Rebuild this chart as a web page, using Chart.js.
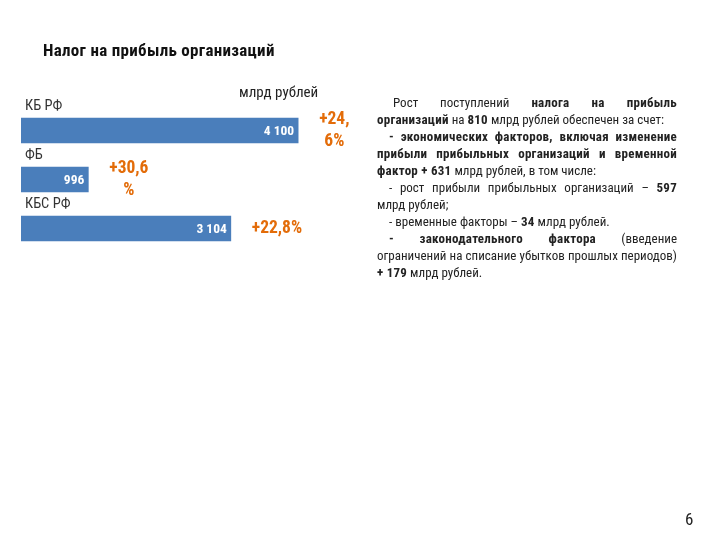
<!DOCTYPE html>
<html>
<head>
<meta charset="utf-8">
<script src="https://cdn.jsdelivr.net/npm/chart.js@4.4.1/dist/chart.umd.min.js"></script>
<style>
  html, body { margin: 0; padding: 0; background: #fff; }
  body { width: 720px; height: 540px; position: relative; overflow: hidden;
         font-family: "Liberation Sans Narrow", "Arial Narrow", "Roboto Condensed", sans-serif; color: #111; }
  #chart { position: absolute; left: 0; top: 0; }
  .title { position: absolute; left: 43px; top: 40px; font-size: 17px; font-weight: bold; letter-spacing: 0.3px; }
  .unit { position: absolute; left: 239px; top: 83px; font-size: 15px; color: #222; }
  .note { position: absolute; left: 377px; top: 94px; width: 300px; font-size: 13px; line-height: 17px; color: #222; }
  .note p { margin: 0; text-align: justify; text-indent: 12px; }
  .note p.first { text-indent: 16px; }
  .note b { letter-spacing: 0.25px; }
  .page { position: absolute; left: 685px; top: 509px; font-size: 17px; color: #222; }
</style>
</head>
<body>
<canvas id="chart" width="720" height="540"></canvas>
<div class="title">Налог на прибыль организаций</div>
<div class="unit">млрд рублей</div>
<div class="note">
  <p class="first">Рост поступлений <b>налога на прибыль организаций</b>&nbsp;на <b>810</b> млрд рублей обеспечен за счет:</p>
  <p><b>- экономических факторов, включая изменение прибыли прибыльных организаций и временной фактор + 631</b> млрд рублей, в том числе:</p>
  <p>- рост прибыли прибыльных организаций – <b>597</b> млрд рублей;</p>
  <p>- временные факторы – <b>34</b> млрд рублей.</p>
  <p><b>- законодательного фактора</b> (введение ограничений на списание убытков прошлых периодов) <b>+ 179</b> млрд рублей.</p>
</div>
<div class="page">6</div>
<script>
// data
const categories = ['КБ РФ', 'ФБ', 'КБС РФ'];
const values = [4100, 996, 3104];
const valueLabels = ['4 100', '996', '3 104'];
const growthLabels = [['+24,', '6%'], ['+30,6', '%'], ['+22,8%']];

const FONT = '"Liberation Sans Narrow", "Arial Narrow", "Roboto Condensed", sans-serif';

// labels above bars, inside bars and growth to the right
const barLabels = {
  id: 'barLabels',
  afterDatasetsDraw(chart) {
    const ctx = chart.ctx;
    const meta = chart.getDatasetMeta(0);
    ctx.save();
    meta.data.forEach((bar, i) => {
      const top = bar.y - bar.height / 2;
      // category name
      ctx.font = '14.5px ' + FONT;
      ctx.fillStyle = '#333';
      ctx.textAlign = 'left';
      ctx.textBaseline = 'middle';
      ctx.fillText(categories[i], 25, top - 12);

      // value inside bar
      ctx.font = 'bold 13.5px ' + FONT;
      ctx.fillStyle = '#fff';
      ctx.textAlign = 'right';
      ctx.fillText(valueLabels[i], bar.x - 4, bar.y + 1);

      // growth
      ctx.font = 'bold 17.5px ' + FONT;
      ctx.fillStyle = '#e36c09';
      ctx.textAlign = 'center';
      const lines = growthLabels[i];
      const w = Math.max(...lines.map(l => ctx.measureText(l).width));
      const cx = bar.x + 21 + w / 2;
      const lh = 22;
      lines.forEach((l, k) => {
        ctx.fillText(l, cx, bar.y - (lines.length - 1) * lh / 2 + k * lh);
      });
    });
    ctx.restore();
  }
};

new Chart(document.getElementById('chart'), {
  type: 'bar',
  data: {
    labels: categories,
    datasets: [{
      data: values,
      backgroundColor: '#4a7ebb',
      borderWidth: 0,
      barThickness: 25
    }]
  },
  options: {
    indexAxis: 'y',
    responsive: false,
    animation: false,
    layout: { padding: { left: 21, top: 106, right: 361, bottom: 287 } },
    plugins: { legend: { display: false }, tooltip: { enabled: false } },
    scales: {
      x: { display: false, min: 0, max: 5000 },
      y: { display: false }
    }
  },
  plugins: [barLabels]
});
</script>
</body>
</html>
